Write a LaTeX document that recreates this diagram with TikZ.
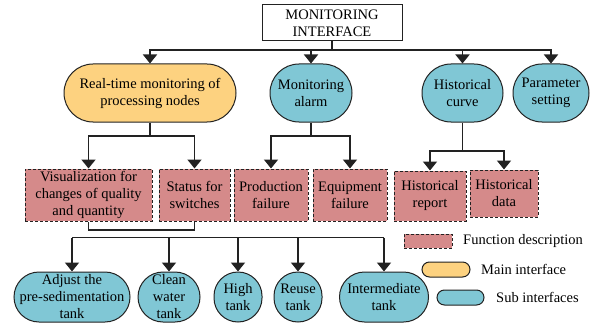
\documentclass[tikz,border=0pt]{standalone}
\usepackage{fontspec}
\setmainfont{Liberation Serif}
\usetikzlibrary{arrows.meta}
\definecolor{mainfill}{HTML}{FDD280}
\definecolor{subfill}{HTML}{80C7D5}
\definecolor{funcfill}{HTML}{D58A8A}
\definecolor{edge}{HTML}{222222}
\tikzset{
  base/.style={draw=edge, line width=1pt, inner sep=0pt, align=center,
    font=\fontsize{14.5}{17}\selectfont},
  titlebox/.style={base, fill=white, minimum width=140pt, minimum height=36pt},
  mainnode/.style={base, fill=mainfill},
  subnode/.style={base, fill=subfill},
  funcbox/.style={base, fill=funcfill, dash pattern=on 3pt off 2pt},
  legendtext/.style={anchor=west, inner sep=0pt, font=\fontsize{14.5}{17}\selectfont},
  link/.style={draw=edge, line width=1.7pt},
  arr/.style={link, -{Triangle[width=14pt,length=9pt]}},
}
\begin{document}
\begin{tikzpicture}[x=1pt, y=-1pt]
\useasboundingbox (0,0) rectangle (596,326);

% root
\node[titlebox] (root) at (332,23) {MONITORING\\INTERFACE};

% first level
\node[mainnode, minimum width=172pt, minimum height=58pt, rounded corners=29pt]
  (rt) at (150,93) {Real-time monitoring of\\processing nodes};
\node[subnode, minimum width=82pt, minimum height=58pt, rounded corners=29pt]
  (alarm) at (311,93) {Monitoring\\alarm};
\node[subnode, minimum width=81pt, minimum height=58pt, rounded corners=29pt]
  (curve) at (462.5,93) {Historical\\curve};
\node[subnode, minimum width=76pt, minimum height=58pt, rounded corners=29pt]
  (param) at (551,93) {Parameter\\setting};

% second level
\node[funcbox, minimum width=127pt, minimum height=52pt]
  (vis) at (88.5,195) {Visualization for\\changes of quality\\and quantity};
\node[funcbox, minimum width=71pt, minimum height=52pt]
  (status) at (194.5,195) {Status for\\switches};
\node[funcbox, minimum width=74pt, minimum height=52pt]
  (prod) at (271,195) {Production\\failure};
\node[funcbox, minimum width=74pt, minimum height=52pt]
  (equip) at (350,195) {Equipment\\failure};
\node[funcbox, minimum width=72pt, minimum height=50pt]
  (hrep) at (430,196) {Historical\\report};
\node[funcbox, minimum width=68pt, minimum height=47pt]
  (hdata) at (504,193.5) {Historical\\data};

% tanks
\node[subnode, minimum width=116pt, minimum height=50pt, rounded corners=25pt]
  (adjust) at (72,297) {Adjust the\\pre-sedimentation\\tank};
\node[subnode, minimum width=62pt, minimum height=50pt, rounded corners=25pt]
  (clean) at (169,297) {Clean\\water\\tank};
\node[subnode, minimum width=48pt, minimum height=50pt, rounded corners=24pt]
  (high) at (238,297) {High\\tank};
\node[subnode, minimum width=48pt, minimum height=50pt, rounded corners=24pt]
  (reuse) at (298,297) {Reuse\\tank};
\node[subnode, minimum width=89pt, minimum height=50pt, rounded corners=25pt]
  (inter) at (384,297) {Intermediate\\tank};

% root to first level
\coordinate (rbus) at (332,50);
\draw[link] (root.south) -- (rbus);
\draw[arr] (rbus) -| (rt.north);
\draw[arr] (rbus) -| (alarm.north);
\draw[arr] (rbus) -| (curve.north);
\draw[arr] (rbus) -| (param.north);

% real-time monitoring branch
\coordinate (rtbus) at (150,136);
\draw[link] (rt.south) -- (rtbus);
\draw[arr] (rtbus) -| (vis.north);
\draw[arr] (rtbus) -| (status.north);

% alarm branch
\coordinate (abus) at (311,136);
\draw[link] (alarm.south) -- (abus);
\draw[arr] (abus) -| (prod.north);
\draw[arr] (abus) -| (equip.north);

% historical curve branch
\coordinate (cbus) at (462.5,151);
\draw[link] (curve.south) -- (cbus);
\draw[arr] (cbus) -| (hrep.north);
\draw[arr] (cbus) -| (hdata.north);

% bracket under the two monitoring boxes
\coordinate (brk) at (0,230);
\draw[line width=1.2pt, draw=edge] (vis.south) -- (vis.south |- brk) -- (status.south |- brk) -- (status.south);

% tank bus
\coordinate (tbus) at (0,237.5);
\draw[link] (adjust.north |- tbus) -- (inter.north |- tbus);
\draw[arr] (adjust.north |- tbus) -- (adjust.north);
\draw[arr] (clean.north |- tbus) -- (clean.north);
\draw[arr] (high.north |- tbus) -- (high.north);
\draw[arr] (reuse.north |- tbus) -- (reuse.north);
\draw[arr] (inter.north |- tbus) -- (inter.north);

% legend
\node[funcbox, minimum width=48pt, minimum height=14pt] (lgf) at (428,241) {};
\node[mainnode, minimum width=48pt, minimum height=15pt, rounded corners=7.5pt] (lgm) at (446,269.5) {};
\node[subnode, minimum width=47pt, minimum height=15pt, rounded corners=7.5pt] (lgs) at (460.5,297.5) {};
\node[legendtext] (lgft) at (463,241) {Function description};
\node[legendtext] (lgmt) at (481,269.5) {Main interface};
\node[legendtext] (lgst) at (496,297.5) {Sub interfaces};
\end{tikzpicture}
\end{document}
